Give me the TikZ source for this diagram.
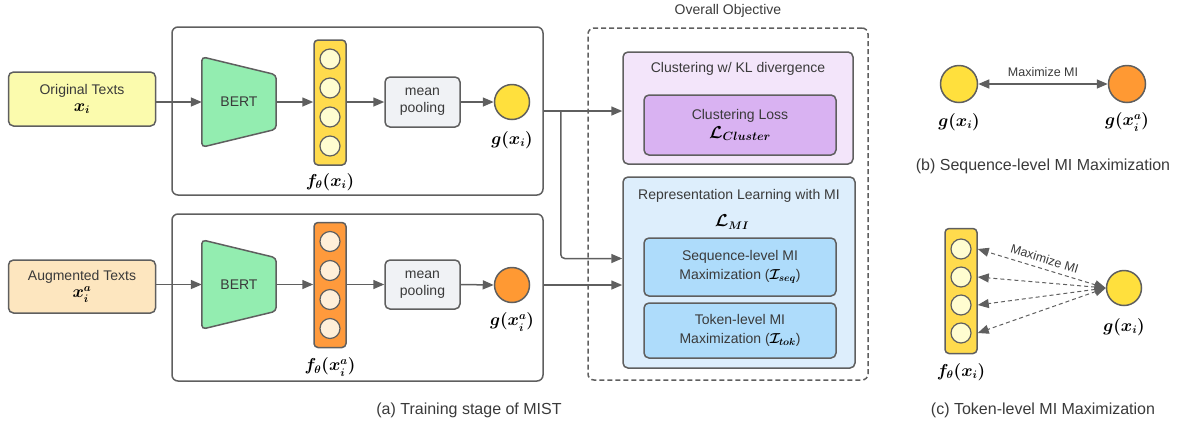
\documentclass[tikz,border=0pt]{standalone}
\usepackage{fontspec}
\setmainfont{Liberation Sans}
\usepackage{amsmath}
\usetikzlibrary{arrows.meta, calc, backgrounds}

\definecolor{linegray}{HTML}{5F5F5F}
\definecolor{textgray}{HTML}{3A3A3A}
\definecolor{origfill}{HTML}{FBFBAD}
\definecolor{augfill}{HTML}{FDE6BF}
\definecolor{bertfill}{HTML}{93EDB0}
\definecolor{vecyellow}{HTML}{FFDB4D}
\definecolor{cellyellow}{HTML}{FFFDD0}
\definecolor{vecorange}{HTML}{FF9A3C}
\definecolor{cellorange}{HTML}{FFEFD9}
\definecolor{poolfill}{HTML}{F0F2F5}
\definecolor{gyellow}{HTML}{FFE03D}
\definecolor{gorange}{HTML}{FF9933}
\definecolor{clusfill}{HTML}{F3E5FA}
\definecolor{lossfill}{HTML}{D9B2F2}
\definecolor{reprfill}{HTML}{DDEEFC}
\definecolor{mifill}{HTML}{AEDCFB}

\begin{document}
\begin{tikzpicture}[x=1pt, y=-1pt,
    box/.style={draw=linegray, line width=1.5pt, rounded corners=5pt, align=center, text=textgray,
        font=\fontsize{14}{17}\selectfont\boldmath, inner sep=0pt},
    frame/.style={draw=linegray, line width=1.5pt, rounded corners=6pt, inner sep=0pt},
    bertstyle/.style={draw=linegray, line width=1.5pt, rounded corners=4pt, fill=bertfill},
    arr/.style={draw=linegray, line width=1.5pt, -{Triangle[length=11pt,width=9pt]}},
    dasharr/.style={draw=linegray, line width=1pt, dash pattern=on 4pt off 3pt,
        {Triangle[length=11pt,width=9pt]}-{Triangle[length=11pt,width=9pt]}},
    vec/.style={draw=linegray, line width=1.5pt, rounded corners=4pt, minimum width=32pt,
        minimum height=125pt, inner sep=0pt},
    cell/.style={circle, draw=linegray, line width=1.2pt, minimum size=20pt, inner sep=0pt},
    emb/.style={circle, draw=linegray, line width=1.5pt, minimum size=35pt, inner sep=0pt},
    txt/.style={text=textgray, font=\fontsize{14}{17}\selectfont},
    small/.style={text=textgray, font=\fontsize{12.5}{15}\selectfont},
    lab/.style={font=\fontsize{16}{19}\selectfont\boldmath},
    captext/.style={text=textgray, font=\fontsize{16}{19}\selectfont}]

    \useasboundingbox (0,0) rectangle (1182,424);

    % Input texts
    \node[box, fill=origfill, minimum width=147pt, minimum height=54pt] (orig) at (82,99)
        {Original Texts\\{\fontsize{16}{18}\selectfont\color{black}$x_i$}};
    \node[box, fill=augfill, minimum width=147pt, minimum height=53pt] (aug) at (82,286.5)
        {Augmented Texts\\{\fontsize{16}{18}\selectfont\color{black}$x_i^a$}};

    % Encoder frames
    \node[frame, minimum width=371pt, minimum height=168pt] (fr1) at (357.5,111) {};
    \node[frame, minimum width=371pt, minimum height=167pt] (fr2) at (357.5,297.5) {};

    % BERT encoders
    \node[txt, minimum width=74pt, minimum height=90pt] (b1) at (239,102) {BERT};
    \node[txt, minimum width=74pt, minimum height=89pt] (b2) at (239,284.5) {BERT};
    \begin{scope}[on background layer]
        \foreach \b in {b1,b2}
            \draw[bertstyle] (\b.north west) -- ($(\b.north east)+(0,18)$)
                -- ($(\b.south east)+(0,-18)$) -- (\b.south west) -- cycle;
    \end{scope}

    % Token vectors
    \node[vec, fill=vecyellow] (v1) at (330,102.5) {};
    \node[vec, fill=vecorange] (v2) at (330,285) {};
    \foreach \k/\dy in {1/-43.5,2/-14.5,3/14.5,4/43.5} {
        \node[cell, fill=cellyellow] (v1c\k) at ($(v1)+(0,\dy)$) {};
        \node[cell, fill=cellorange] (v2c\k) at ($(v2)+(0,\dy)$) {};
    }
    \node[lab] (f1) at (330,182) {$f_\theta(x_i)$};
    \node[lab] (f2) at (330,367) {$f_\theta(x_i^a)$};

    % Mean pooling
    \node[box, fill=poolfill, minimum width=75pt, minimum height=50pt] (mp1) at (422.5,102) {mean\\pooling};
    \node[box, fill=poolfill, minimum width=75pt, minimum height=49pt] (mp2) at (422.5,284.5) {mean\\pooling};

    % Sentence embeddings
    \node[emb, fill=gyellow] (g1) at (512,102) {};
    \node[emb, fill=gorange] (g2) at (512,285) {};
    \node[lab] (g1l) at (512,140) {$g(x_i)$};
    \node[lab] (g2l) at (512,322) {$g(x_i^a)$};

    % Arrows through the encoders
    \draw[arr] (orig.east |- b1.west) -- (b1.west);
    \draw[arr] (b1.east) -- (v1.west |- b1.east);
    \draw[arr] (v1.east |- mp1.west) -- (mp1.west);
    \draw[arr] (mp1.east) -- (g1.west);
    \draw[arr] (aug.east |- b2.west) -- (b2.west);
    \draw[arr] (b2.east) -- (v2.west |- b2.east);
    \draw[arr] (v2.east |- mp2.west) -- (mp2.west);
    \draw[arr] (mp2.east) -- (g2.west);

    % Overall objective
    \node[draw=linegray, dash pattern=on 5pt off 3pt, line width=1.5pt, rounded corners=6pt,
        minimum width=280pt, minimum height=352pt] (obj) at (728,204) {};
    \node[txt] (objt) at (728,11) {Overall Objective};

    \node[box, fill=clusfill, minimum width=230pt, minimum height=112pt] (clus) at (738,108) {};
    \node[txt] (clust) at (738,69) {Clustering w/ KL divergence};
    \node[box, fill=lossfill, minimum width=192pt, minimum height=60pt] (closs) at (740,125)
        {Clustering Loss\\[2pt]{\fontsize{17}{19}\selectfont\color{black}$\mathcal{L}_{Cluster}$}};

    \node[box, fill=reprfill, minimum width=232pt, minimum height=191pt] (repr) at (739,272.5) {};
    \node[txt] (reprt) at (739,196) {Representation Learning with MI};
    \node[lab] (lmi) at (732,222) {$\mathcal{L}_{MI}$};
    \node[box, fill=mifill, minimum width=192pt, minimum height=58pt] (seq) at (740,267)
        {Sequence-level MI\\[2pt]Maximization ({\color{black}$\mathcal{I}_{seq}$})};
    \node[box, fill=mifill, minimum width=192pt, minimum height=55pt] (tok) at (740,330.5)
        {Token-level MI\\[2pt]Maximization ({\color{black}$\mathcal{I}_{tok}$})};

    % Encoders to objectives
    \draw[arr] (fr1.east) -- (fr1.east -| clus.west);
    \draw[arr, rounded corners=4pt] ($(fr1.east)+(17,0)$) |- ($(repr.west)+(0,-14)$);
    \draw[arr] (fr2.east |- g2) -- (g2 -| repr.west);

    \node[captext] (capa) at (469,410) {(a) Training stage of MIST};

    % (b) Sequence-level
    \node[emb, minimum size=37pt, fill=gyellow] (g3) at (959,84) {};
    \node[emb, minimum size=37pt, fill=gorange] (g4) at (1127,84) {};
    \draw[arr, {Triangle[length=11pt,width=9pt]}-{Triangle[length=11pt,width=9pt]}] (g3) -- (g4)
        node[midway, above=3pt, small] {Maximize MI};
    \node[lab] (g3l) at (959,122) {$g(x_i)$};
    \node[lab] (g4l) at (1127,122) {$g(x_i^a)$};
    \node[captext] (capb) at (1043,166) {(b) Sequence-level MI Maximization};

    % (c) Token-level
    \node[vec, fill=vecyellow] (v3) at (961,291) {};
    \foreach \k/\dy in {1/-42,2/-14,3/14,4/42}
        \node[cell, fill=cellyellow] (v3c\k) at ($(v3)+(0,\dy)$) {};
    \node[emb, fill=gyellow] (g5) at (1124,288) {};
    \foreach \k in {1,...,4}
        \draw[dasharr] (g5.west) -- (v3c\k -| v3.east);
    \path (g5.west) -- (v3c1 -| v3.east) node[midway, above=2pt, sloped, small] {Maximize MI};
    \node[lab] (f3) at (961,372) {$f_\theta(x_i)$};
    \node[lab] (g5l) at (1124,327) {$g(x_i)$};
    \node[captext] (capc) at (1043,410) {(c) Token-level MI Maximization};
\end{tikzpicture}
\end{document}
